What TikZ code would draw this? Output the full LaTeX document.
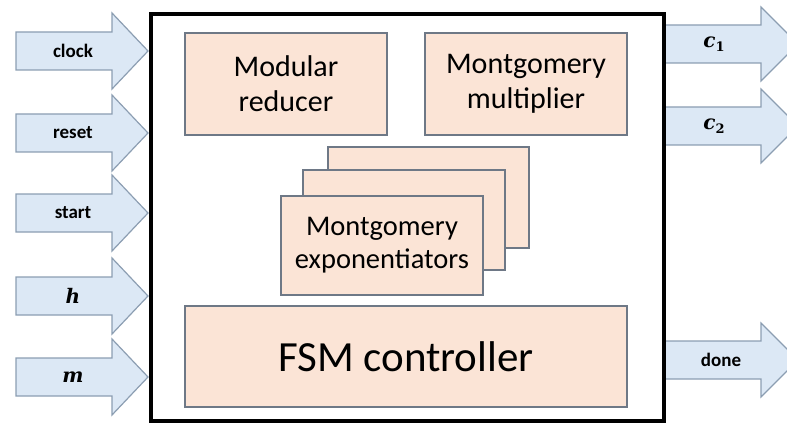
\documentclass[tikz,border=0pt]{standalone}
\usepackage{fontspec}
\setmainfont{Carlito}
\newfontfamily\mathlike{DejaVu Serif}
\definecolor{boxfill}{RGB}{251,228,214}
\definecolor{boxline}{RGB}{110,120,134}
\definecolor{arrfill}{RGB}{220,232,245}
\definecolor{arrline}{RGB}{140,158,178}
\newcommand\leftarr[3]{%
  \draw[arrshape] (16,#2-19) -- (112,#2-19) -- (112,#2-38) -- (148,#2) -- (112,#2+38) -- (112,#2+19) -- (16,#2+19) -- cycle;
  \node[arrlabel] (#1) at (73,#2) {#3};}
\newcommand\rightarr[4]{%
  \draw[arrshape] (665,#2-19) -- (761,#2-19) -- (761,#2-37) -- (798,#2) -- (761,#2+37) -- (761,#2+19) -- (665,#2+19) -- cycle;
  \node[arrlabel] (#1) at (#3,#2) {#4};}
\newcommand\mvar[1]{{\mathlike\bfseries\itshape\fontsize{20}{22}\selectfont #1}}
\newcommand\msub[1]{\raisebox{-4pt}{\mathlike\bfseries\fontsize{13}{14}\selectfont #1}}
\begin{document}
\begin{tikzpicture}[x=1pt,y=-1pt,
  block/.style={draw=boxline, fill=boxfill, line width=1.2pt, inner sep=0pt, align=center,
    font=\fontsize{30}{35}\selectfont},
  arrshape/.style={draw=arrline, fill=arrfill, line width=1.2pt, line join=miter},
  arrlabel/.style={inner sep=0pt, font=\fontsize{19}{21}\selectfont\bfseries},
  frame/.style={draw=black, line width=4.5pt}]
\useasboundingbox (0,0) rectangle (787,425);
\clip (0,0) rectangle (787,425);
\leftarr{clock}{51}{clock}
\leftarr{reset}{133}{reset}
\leftarr{start}{213}{start}
\leftarr{h}{296}{\mvar{h}}
\leftarr{m}{377}{\mvar{m}}
\rightarr{c1}{44}{714}{\mvar{c}\msub{1}}
\rightarr{c2}{126}{714}{\mvar{c}\msub{2}}
\rightarr{done}{360}{721}{done}
\node[frame, minimum width=513pt, minimum height=407pt, inner sep=0pt] (top) at (407.5,217.5) {};
\node[block, minimum width=202pt, minimum height=102pt] (red) at (286,84) {Modular\\reducer};
\node[block, minimum width=202pt, minimum height=102pt] (mul) at (526,84) {Montgomery\\multiplier};
\node[block, minimum width=201pt, minimum height=101pt] (exp3) at (428.5,197.5) {};
\node[block, minimum width=202pt, minimum height=100pt] (exp2) at (404,220) {};
\node[block, minimum width=202pt, minimum height=99pt, font=\fontsize{28.5}{33}\selectfont] (exp1) at (382,245.5) {Montgomery\\exponentiators};
\node[block, minimum width=442pt, minimum height=101pt, font=\fontsize{43}{48}\selectfont] (fsm) at (406,356.5) {FSM controller};
\end{tikzpicture}
\end{document}
